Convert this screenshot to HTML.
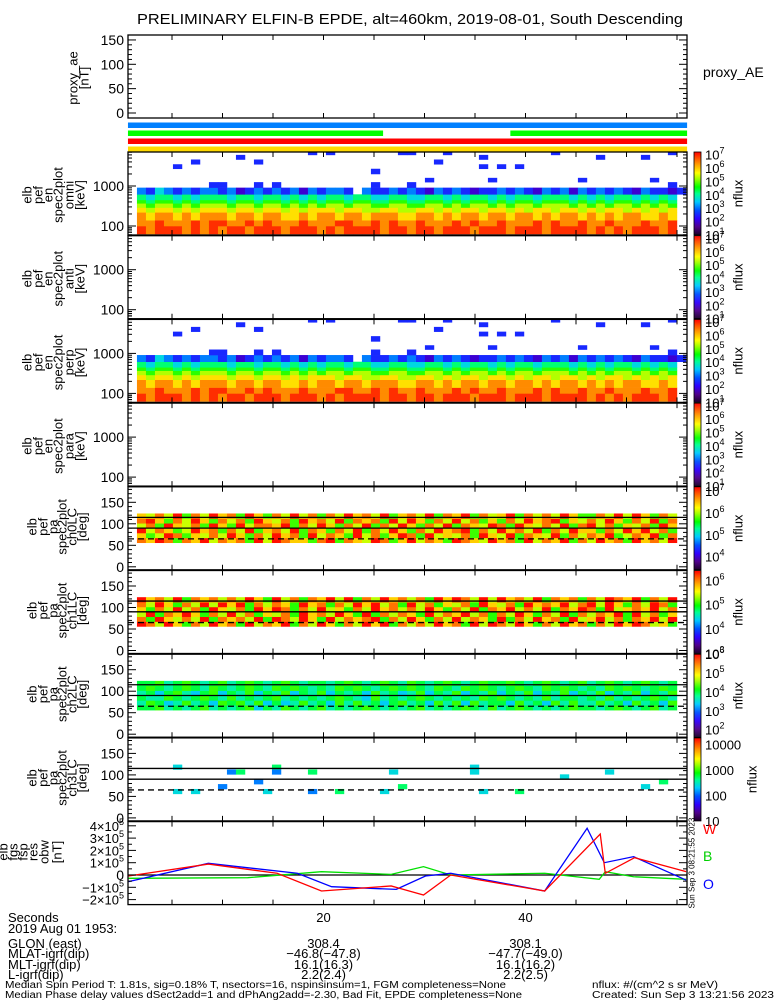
<!DOCTYPE html>
<html><head><meta charset="utf-8"><style>
html,body{margin:0;padding:0;background:#fff;}
svg{display:block;font-family:"Liberation Sans",sans-serif;}
</style></head><body>
<svg id="fig" width="775" height="1000" viewBox="0 0 775 1000" xmlns="http://www.w3.org/2000/svg">
<rect x="0" y="0" width="775" height="1000" fill="#fff"/>
<text x="410" y="24" font-size="15" text-anchor="middle" textLength="546" lengthAdjust="spacingAndGlyphs">PRELIMINARY ELFIN-B EPDE, alt=460km, 2019-08-01, South Descending</text>
<g id="layer"></g>
</svg>
<script>
// ---------- data ----------
const specEnergyEdges = [63,100,140,220,290,370,450,620,910,1250,1600,2000,2700,3500,4600,6000,7500];
const specRows = [
"989998989899899989998989999899899899989998999899998989899989",
"889888989988989888988899889898898889898898889898898898889889",
"878878788878878877878878878887788787887887887878878787887787",
"767767677767767767677767766776677676776776767767767677676767",
"656656566656656656565665665566556656566565665666565656656565",
"545545455545545545454554554455445545455454554555454545545454",
"434434344434434434343443443344334434344343443444343434434343",
"213212122120121212021221.211212102121011212102120212121021101",
"........11...1.1..........1...1............................1"];
const specDots = [[4,12,1],[6,13,1],[11,14,1],[13,13,1],[19,15,1],[21,15,1],[26,11,1],[29,15,1],[30,15,1],[32,9,1],[33,13,1],[34,15,1],[38,14,1],[38,12,1],[39,9,1],[40,12,1],[42,12,1],[46,15,1],[49,9,1],[51,14,1],[56,14,1],[57,9,1],[59,15,1]];
const paCh0 = [
"879858796878596987758958769857968759876978596879586978597869",
"756985768697586978596875968579859676859769587695868795687958",
"968756978586957869587586958697586978958697869586977586979685",
"685976859759688795869758695869758695876985976869589685768597",
"897586975868597685978695878596975869685758697895768697586958",
"768695869785975869685869786957869587958679586869755869697586"];
const paCh1 = [
"986975869785968795869758697958686978596986975869785869798675",
"859768695878695986975968789586975869687595869785967968587969",
"695879758696857685978697595868759687968586975869586879596857",
"758696859768597985869675869786869758695879686958798596787968",
"869758696979586875978586979685968576859768597879689697586985",
"978695878686975968587969586978685979869697869587858698795869"];
const paCh2 = [
"556454564545635465456454565454564545654645654545655456545645",
"465346453656463534645364645356453646364553645364644645364536",
"544654565464545645454565436454565454546565454645545464545654",
"453564356354635463546354536453463546354635463546354635463546",
"565456546545654656545465654565654654656545654656545465654565",
"556456545645654565455456545654654565456556545654564565456545"];
const paCh3Dots = [[4,5,3],[4,0,3],[6,0,3],[9,1,2],[10,4,2],[11,4,4],[13,2,2],[14,0,3],[15,5,4],[15,4,2],[19,0,2],[19,4,4],[22,0,4],[27,0,3],[28,4,3],[29,1,4],[37,5,3],[37,4,3],[38,0,3],[42,0,4],[47,3,3],[52,4,3],[56,1,3],[58,2,4]];
const fgmTimes = [0.7,8.6,17.4,20.8,27.2,30.1,32.6,41.9,46.1,47.8,50.7,55.9];
const fgmBlue = [-0.54,0.95,0.14,-0.95,-1.17,-0.08,0.14,-1.30,3.80,1.00,1.49,-0.41];
const fgmRedT = [0.7,8.6,15.4,19.8,26.7,29.9,32.6,41.9,47.4,47.9,50.8,55.9];
const fgmRed = [-0.08,0.89,0.14,-1.30,-0.89,-1.63,0.0,-1.30,3.33,0.14,1.41,0.27];
const fgmGreenT = [0.7,12.5,19.8,26.7,29.9,32.6,41.9,47.3,47.9,50.7,55.9];
const fgmGreen = [-0.27,-0.22,0.27,0.05,0.68,0.0,0.14,-0.35,0.27,-0.14,-0.35];
const xTickSeconds = [5,10,15,20,25,30,35,40,45,50,55];
const xLabelSeconds = [20,40];
const glonVals = ["308.4","308.1"];
const mlatVals = ["\u221246.8(\u221247.8)","\u221247.7(\u221249.0)"];
const mltVals = ["16.1(16.3)","16.1(16.2)"];
const lVals = ["2.2(2.4)","2.2(2.5)"];

// ---------- layout helpers ----------
const NS="http://www.w3.org/2000/svg";
const layer=document.getElementById('layer');
const L=128,R=687;
function xOf(t){return 121.5+10.1*t;}
const colT0=1.53, colDt=0.891;
function mk(tag,attrs,parent){const e=document.createElementNS(NS,tag);for(const k in attrs)e.setAttribute(k,attrs[k]);(parent||layer).appendChild(e);return e;}
const stops=[[0,[26,0,38]],[0.1,[80,0,138]],[0.2,[48,0,255]],[0.3,[0,80,255]],[0.4,[0,200,255]],[0.5,[0,255,144]],[0.58,[0,255,0]],[0.68,[160,255,0]],[0.75,[255,255,0]],[0.85,[255,160,0]],[0.93,[255,80,0]],[1,[255,0,0]]];
function cmap(f){f=Math.max(0,Math.min(1,f));for(let i=1;i<stops.length;i++){if(f<=stops[i][0]){const a=stops[i-1],b=stops[i];const u=(f-a[0])/(b[0]-a[0]);const c=a[1].map((v,j)=>Math.round(v+(b[1][j]-v)*u));return `rgb(${c[0]},${c[1]},${c[2]})`;}}return 'rgb(255,0,0)';}
const panelTop=k=>152+83.7*k; const PH=83;

function frame(top,h,name){
  const r=mk('rect',{x:L,y:top,width:R-L,height:h,fill:'none',stroke:'#000','stroke-width':1.3});
  
  
  xTickSeconds.forEach(s=>{const x=xOf(s);mk('line',{x1:x,x2:x,y1:top,y2:top+5,stroke:'#000'});mk('line',{x1:x,x2:x,y1:top+h,y2:top+h-5,stroke:'#000'});});
}
function yTick(y,len){mk('line',{x1:L,x2:L+len,y1:y,y2:y,stroke:'#000'});mk('line',{x1:R,x2:R-len,y1:y,y2:y,stroke:'#000'});}
function yLabel(y,txt,name){const t=mk('text',{x:124,y:y+5,'font-size':14,'text-anchor':'end'});t.textContent=txt;}
function sideLabel(lines,xs,cy,name){const g=mk('g',{});lines.forEach((s,i)=>{const t=mk('text',{x:0,y:0,'font-size':13,'text-anchor':'middle','dominant-baseline':'central',transform:`translate(${xs[i]},${cy}) rotate(-90)`},g);t.textContent=s;});}
function colorbar(top,h,lo,hi,labels,plain,nfx,name){
  const g=mk('g',{});
  for(let i=0;i<h;i++){mk('rect',{x:694,y:top+h-1-i,width:7,height:1.2,fill:cmap((i+0.5)/h)},g);}
  mk('rect',{x:694,y:top,width:7,height:h,fill:'none',stroke:'#000','stroke-width':0.8},g);
  labels.forEach(v=>{const y=top+h-(v-lo)/(hi-lo)*h;const t=mk('text',{x:705,y:y+5,'font-size':13},g);
    if(plain){t.textContent=String(Math.pow(10,v));}else{t.textContent='10';const s=mk('tspan',{dy:-6,'font-size':9},t);s.textContent=String(v);}});
  const n=mk('text',{x:0,y:0,'font-size':13,'text-anchor':'middle','dominant-baseline':'central',transform:`translate(${nfx},${top+h/2}) rotate(-90)`},g);n.textContent='nflux';
}

// ---------- proxy_ae ----------
(function(){const top=35,h=83;frame(top,h,'proxy-ae');const y0=113,s=0.487;
  for(let v=0;v<=150;v+=10)yTick(y0-v*s,v%50===0?8:4);
  [0,50,100,150].forEach(v=>yLabel(y0-v*s,String(v),'proxy-ae-tick-'+v));
  sideLabel(['proxy_ae','[nT]'],[73,84],78,'proxy-ae-axis-title');
  const t=mk('text',{x:703,y:77,'font-size':14});t.textContent='proxy_AE';
})();
// status bars
(function(){const bars=[[122.5,'#0080ff',[[0.64,56]]],[130.5,'#00ff00',[[0.64,25.9],[38.5,56]]],[138.5,'#ff0000',[[0.64,56]]],[146.5,'#ffd800',[[0.64,56]]]];
  bars.forEach((b,i)=>b[2].forEach(seg=>{const r=mk('rect',{x:xOf(seg[0]),y:b[0],width:xOf(seg[1])-xOf(seg[0]),height:5.5,fill:b[1]});}));})();

// ---------- energy spectrograms ----------
function specPanel(k,rows,dots,lab,name){
  const top=panelTop(k);const yE=e=>top+34-(Math.log10(e)-3)*40;
  const g=mk('g',{});
  const cell=(c,r,d)=>{const lf=2+d*0.55;const y1=Math.max(top,yE(specEnergyEdges[r+1])),y2=Math.min(top+PH,yE(specEnergyEdges[r]));if(y2<=y1)return;
    const x1=xOf(colT0+c*colDt),x2=xOf(colT0+(c+1)*colDt);mk('rect',{x:x1,y:y1,width:x2-x1+0.3,height:y2-y1+0.3,fill:cmap((lf-1)/6.2)},g);};
  if(rows){rows.forEach((s,r)=>{for(let c=0;c<s.length;c++){const ch=s[c];if(ch!=='.')cell(c,r,+ch);}});dots.forEach(d=>cell(d[0],d[1],d[2]));}
  frame(top,PH,name);
  [100,1000].forEach(v=>{yTick(yE(v),8);for(let m=2;m<10;m++){const y=yE(v/10*m);if(y>top&&y<top+PH)yTick(y,4);}});
  for(let m=2;m<10;m++){const y=yE(1000*m);if(y>top)yTick(y,4);}
  for(let m=6;m<10;m++){const y=yE(10*m);if(y<top+PH)yTick(y,4);}
  yLabel(yE(1000),'1000',name+'-tick-1000');yLabel(yE(100),'100',name+'-tick-100');
  sideLabel(['elb','pef','en','spec2plot',lab,'[keV]'],[27,38,48,58,69,80],top+43,name+'-axis-title');
  colorbar(top,PH,1,7.2,[1,2,3,4,5,6,7],false,738,name+'-colorbar');
}
specPanel(0,specRows,specDots,'omni','spec-omni');
specPanel(1,null,null,'anti','spec-anti');
specPanel(2,specRows,specDots,'perp','spec-perp');
specPanel(3,null,null,'para','spec-para');

// ---------- pitch angle panels ----------
function paPanel(k,rows,dots,base,step,lo,hi,cbLabels,plain,nfx,lab,name){
  const top=panelTop(k);const yD=d=>top+80-d*0.43;const pa0=56,dpa=11.33;
  const g=mk('g',{});
  const cell=(c,r,d)=>{const lf=base+d*step;const y1=yD(pa0+(r+1)*dpa),y2=yD(pa0+r*dpa);const x1=xOf(colT0+c*colDt),x2=xOf(colT0+(c+1)*colDt);
    mk('rect',{x:x1,y:y1,width:x2-x1+0.3,height:y2-y1+0.3,fill:cmap((lf-lo)/(hi-lo))},g);};
  if(rows)rows.forEach((s,r)=>{for(let c=0;c<s.length;c++){if(s[c]!=='.')cell(c,r,+s[c]);}});
  if(dots)dots.forEach(d=>cell(d[0],d[1],d[2]));
  [[115,'none'],[90,'none'],[65,'6,4']].forEach(l=>{const e=mk('line',{x1:L,x2:R,y1:yD(l[0]),y2:yD(l[0]),stroke:'#000','stroke-width':1.3,'stroke-dasharray':l[1]});});
  frame(top,PH,name);
  for(let v=0;v<=180;v+=10)yTick(yD(v),v%50===0?8:4);
  [0,50,100,150].forEach(v=>yLabel(yD(v),String(v),name+'-tick-'+v));
  sideLabel(['elb','pef','pa','spec2plot',lab,'[deg]'],[32,43,53,62,72,82],top+40,name+'-axis-title');
  colorbar(top,PH,lo,hi,cbLabels,plain,nfx,name+'-colorbar');
}
paPanel(4,paCh0,null,4.0,0.35,3.4,7.2,[4,5,6,7],false,738,'ch0LC','pa-ch0');
paPanel(5,paCh1,null,3.4,0.33,3.0,6.4,[3,4,5,6],false,738,'ch1LC','pa-ch1');
paPanel(6,paCh2,null,2.5,0.3,1.6,6.0,[2,3,4,5,6],false,738,'ch2LC','pa-ch2');
paPanel(7,null,paCh3Dots,1.5,0.3,1.0,4.25,[1,2,3,4],true,752,'ch3LC','pa-ch3');

// ---------- fgm panel ----------
(function(){const top=panelTop(8),h=PH;const yV=v=>875-v*12.3;
  mk('line',{x1:L,x2:R,y1:yV(0),y2:yV(0),stroke:'#000','stroke-width':1.3});
  const line=(ts,vs,col,nm)=>{const p=mk('polyline',{points:ts.map((t,i)=>xOf(t)+','+yV(vs[i])).join(' '),fill:'none',stroke:col,'stroke-width':1.3});};
  line(fgmGreenT,fgmGreen,'#00e000','fgm-b-line');
  line(fgmTimes,fgmBlue,'#0000ff','fgm-o-line');
  line(fgmRedT,fgmRed,'#ff0000','fgm-w-line');
  frame(top,h,'fgm');
  for(let v=-2;v<=4;v+=0.5)yTick(yV(v),Number.isInteger(v)?8:4);
  [4,3,2,1,-1,-2].forEach(v=>{const t=mk('text',{x:124,y:yV(v)+5,'font-size':13,'text-anchor':'end'});t.textContent=(v<0?'\u2212'+(-v):v)+'\u00d710';const s=mk('tspan',{dy:-6,'font-size':9},t);s.textContent='5';});
  yLabel(yV(0),'0','fgm-tick-0');
  sideLabel(['elb','fgs','fsp','res','obw','[nT]'],[3,13,23,33,44,57],852,'fgm-axis-title');
  [['W','#ff0000',834],['B','#00d000',861],['O','#0000ff',889]].forEach(a=>{const t=mk('text',{x:703,y:a[2],'font-size':14,fill:a[1]});t.textContent=a[0];});
  const st=mk('text',{x:0,y:0,'font-size':8,'text-anchor':'middle','dominant-baseline':'central',transform:`translate(692,${top+h/2}) rotate(-90)`});st.textContent='Sun Sep  3 08:21:55 2023';
})();

// ---------- footer ----------
(function(){
  const T=(x,y,s,txt,anchor,name,w)=>{const a={x:x,y:y,'font-size':s,'text-anchor':anchor||'start'};if(w){a.textLength=w;a.lengthAdjust='spacingAndGlyphs';}const t=mk('text',a);t.textContent=txt;};
  T(8,922,13,'Seconds','start','x-axis-title');
  xLabelSeconds.forEach(s=>T(xOf(s),922,13,String(s),'middle','x-tick-'+s));
  T(8,933,13,'2019 Aug 01 1953:','start','date-label');
  T(8,948,13,'GLON (east)','start','glon-label');
  T(8,958,13,'MLAT-igrf(dip)','start','mlat-label');
  T(8,969,13,'MLT-igrf(dip)','start','mlt-label');
  T(8,979,13,'L-igrf(dip)','start','l-label');
  xLabelSeconds.forEach((s,i)=>{T(xOf(s),948,13,glonVals[i],'middle','glon-'+s);T(xOf(s),958,13,mlatVals[i],'middle','mlat-'+s);T(xOf(s),969,13,mltVals[i],'middle','mlt-'+s);T(xOf(s),979,13,lVals[i],'middle','l-'+s);});
  T(5,988,10,'Median Spin Period T: 1.81s, sig=0.18% T, nsectors=16, nspinsinsum=1, FGM completeness=None','start','footer-spin-info',501);
  T(5,998,10,'Median Phase delay values dSect2add=1 and dPhAng2add=-2.30, Bad Fit, EPDE completeness=None','start','footer-phase-info',517);
  T(592,988,10,'nflux: #/(cm^2 s sr MeV)','start','footer-units',126);
  T(592,998,10,'Created: Sun Sep  3 13:21:56 2023','start','footer-created',182);
})();
</script>
</body></html>
